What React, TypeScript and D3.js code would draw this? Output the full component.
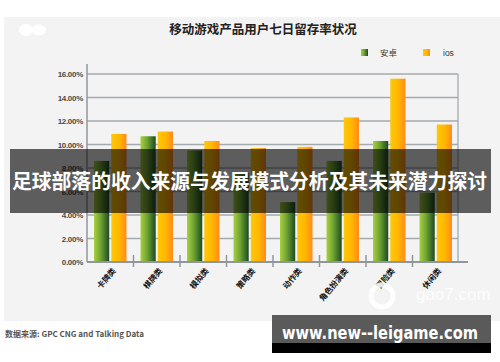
import React from "react";
import * as d3 from "d3";

const categories = ["卡牌类", "棋牌类", "模拟类", "策略类", "动作类", "角色扮演类", "冒险类", "休闲类"];
const seriesNames = ["安卓", "ios"];
const android = [8.6, 10.7, 9.5, 7.6, 5.1, 8.6, 10.3, 5.9];
const ios = [10.9, 11.1, 10.3, 9.7, 9.8, 12.3, 15.6, 11.7];
const yTicks = [0, 2, 4, 6, 8, 10, 12, 14, 16];
const title = "移动游戏产品用户七日留存率状况";
const banner = "足球部落的收入来源与发展模式分析及其未来潜力探讨";
const source = "数据来源: GPC CNG and Talking Data";
const site = "www.new--leigame.com";

export default function App() {
  const W = 500, H = 362;
  const x = d3.scaleBand<string>().domain(categories).range([87, 459]).padding(0);
  const inner = d3.scaleBand<string>().domain(seriesNames).range([7, 39.5]).paddingInner(0.12);
  const y = d3.scaleLinear().domain([0, 16]).range([262, 74]);
  const series = [android, ios];
  const fills = ["url(#gGreen)", "url(#gOrange)"];
  const cjk = "'Noto Sans CJK SC', 'Liberation Sans', Arial, sans-serif";
  const lat = "'Liberation Sans', Arial, 'Noto Sans CJK SC', sans-serif";

  return (
    <svg width={W} height={H} style={{ position: "absolute", left: 0, top: 0 }}>
      <defs>
        <linearGradient id="gGreen" x1="0" x2="1" y1="0" y2="0">
          <stop offset="0" stopColor="#a8d040" />
          <stop offset="0.45" stopColor="#6ea232" />
          <stop offset="1" stopColor="#1d4a22" />
        </linearGradient>
        <linearGradient id="gOrange" x1="0" x2="1" y1="0" y2="0">
          <stop offset="0" stopColor="#ffc808" />
          <stop offset="0.5" stopColor="#ffb800" />
          <stop offset="1" stopColor="#ff8a1c" />
        </linearGradient>
      </defs>
      <rect x={0} y={0} width={W} height={H} fill="#ffffff" />
      <rect x={4} y={17} width={W - 4} height={304} fill="#f3f3f3" />
      {/* erased blobs */}
      <ellipse cx={26} cy={30} rx={7} ry={6} fill="#ffffff" />
      <ellipse cx={39} cy={30} rx={7} ry={5.5} fill="#ffffff" />

      <text x={263} y={34} textAnchor="middle" fontFamily={cjk} fontWeight="bold" fontSize={12.5} fill="#222">{title}</text>

      {/* legend */}
      <rect x={361} y={49} width={7} height={7} fill="url(#gGreen)" />
      <text x={380} y={56} fontFamily={cjk} fontSize={8.5} fill="#333">{seriesNames[0]}</text>
      <rect x={423} y={49} width={7} height={7} fill="url(#gOrange)" />
      <text x={443} y={56} fontFamily={lat} fontSize={8.5} fill="#333">{seriesNames[1]}</text>

      {/* grid */}
      {yTicks.filter(t => t > 0).map(t => (
        <line key={t} x1={87} x2={458} y1={y(t)} y2={y(t)} stroke="#a3aaae" strokeWidth={1.3} />
      ))}
      <line x1={458} x2={458} y1={y(16)} y2={y(0)} stroke="#a3aaae" strokeWidth={1.3} />
      {yTicks.map(t => (
        <text key={t} x={83} y={y(t) + 3} textAnchor="end" fontFamily={lat} fontWeight="bold" fontSize={8} fill="#4a4a4a" letterSpacing={-0.3}>
          {t.toFixed(2)}%
        </text>
      ))}

      {/* bars */}
      {categories.map((c, i) => (
        <g key={c}>
          {series.map((s, j) => (
            <rect key={j} x={(x(c) as number) + (inner(seriesNames[j]) as number)} y={y(s[i])}
              width={inner.bandwidth()} height={y(0) - y(s[i])} fill={fills[j]} />
          ))}
        </g>
      ))}

      {/* axes */}
      <line x1={87} x2={87} y1={64} y2={262} stroke="#8f979b" strokeWidth={1.5} />
      <line x1={87} x2={468} y1={262} y2={262} stroke="#8f979b" strokeWidth={1.8} />
      {categories.slice(1).map(c => (
        <line key={c} x1={x(c) as number} x2={x(c) as number} y1={255} y2={267} stroke="#8f979b" strokeWidth={1.5} />
      ))}
      {categories.map(c => {
        const cx = (x(c) as number) + x.bandwidth() / 2 + 6;
        return (
          <text key={c} transform={`translate(${cx},271) rotate(-50)`} textAnchor="end" fontFamily={cjk} fontWeight="bold" fontSize={8} fill="#111">{c}</text>
        );
      })}

      {/* watermark */}
      <text x={416} y={300} fontFamily={lat} fontSize={17} fill="#ffffff" opacity={0.85}>gao7.com</text>
      <circle cx={382} cy={296} r={11} fill="none" stroke="#ffffff" strokeWidth={5} opacity={0.85} />

      {/* overlay banner */}
      <rect x={10} y={149} width={481} height={64} fill="rgba(0,0,0,0.62)" />
      <text x={12} y={189} fontFamily={cjk} fontWeight="bold" fontSize={20} fill="#ffffff" textLength={475} lengthAdjust="spacingAndGlyphs">{banner}</text>

      <text x={5} y={337} fontFamily={cjk} fontWeight="bold" fontSize={8} fill="#555">{source}</text>

      <rect x={272} y={315} width={219} height={38} fill="#5a5a5a" />
      <rect x={272} y={343} width={219} height={10} fill="#000000" />
      <text x={282} y={339} fontFamily="'DejaVu Sans', 'Open Sans', sans-serif" fontWeight="bold" fontSize={18} fill="#ffffff" textLength={196} lengthAdjust="spacingAndGlyphs">{site}</text>
    </svg>
  );
}
